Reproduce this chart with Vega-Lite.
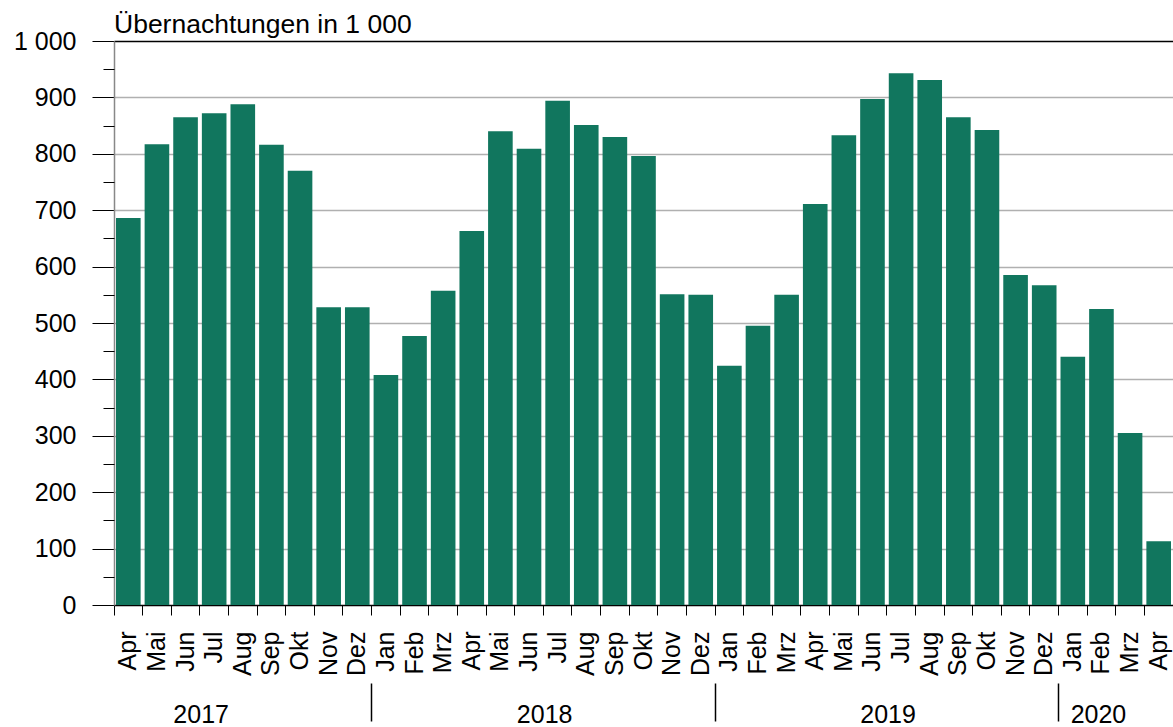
{
  "$schema": "https://vega.github.io/schema/vega-lite/v6.json",
  "width": 1059,
  "height": 564,
  "autosize": {"type": "none"},
  "padding": {"left": 114, "top": 41, "right": 0, "bottom": 122},
  "background": "white",
  "config": {
    "font": "Liberation Sans",
    "view": {"stroke": null},
    "axis": {"labelFont": "Liberation Sans", "labelColor": "black", "labelFontSize": 25, "title": null}
  },
  "title": {
    "text": "Übernachtungen in 1 000",
    "anchor": "start",
    "frame": "group",
    "orient": "top",
    "offset": -9,
    "font": "Liberation Sans",
    "fontSize": 26.5,
    "fontWeight": "normal",
    "color": "black"
  },
  "data": {
    "values": [
      {"key": "2017-04", "value": 686},
      {"key": "2017-05", "value": 817},
      {"key": "2017-06", "value": 865},
      {"key": "2017-07", "value": 872},
      {"key": "2017-08", "value": 888},
      {"key": "2017-09", "value": 816},
      {"key": "2017-10", "value": 770},
      {"key": "2017-11", "value": 528},
      {"key": "2017-12", "value": 528},
      {"key": "2018-01", "value": 408},
      {"key": "2018-02", "value": 477},
      {"key": "2018-03", "value": 557},
      {"key": "2018-04", "value": 663},
      {"key": "2018-05", "value": 840},
      {"key": "2018-06", "value": 809},
      {"key": "2018-07", "value": 894},
      {"key": "2018-08", "value": 851},
      {"key": "2018-09", "value": 830},
      {"key": "2018-10", "value": 796},
      {"key": "2018-11", "value": 551},
      {"key": "2018-12", "value": 550},
      {"key": "2019-01", "value": 424},
      {"key": "2019-02", "value": 495},
      {"key": "2019-03", "value": 550},
      {"key": "2019-04", "value": 711},
      {"key": "2019-05", "value": 833},
      {"key": "2019-06", "value": 897},
      {"key": "2019-07", "value": 943},
      {"key": "2019-08", "value": 931},
      {"key": "2019-09", "value": 865},
      {"key": "2019-10", "value": 842},
      {"key": "2019-11", "value": 585},
      {"key": "2019-12", "value": 567},
      {"key": "2020-01", "value": 440},
      {"key": "2020-02", "value": 525},
      {"key": "2020-03", "value": 305},
      {"key": "2020-04", "value": 113}
    ]
  },
  "layer": [
    {
      "mark": {"type": "bar", "color": "#11765e", "width": {"band": 0.86}},
      "encoding": {
        "x": {
          "field": "key",
          "type": "nominal",
          "scale": {"paddingInner": 0, "paddingOuter": 0},
          "axis": {
            "orient": "bottom",
            "title": null,
            "domain": false,
            "bandPosition": 0,
            "tickSize": 10,
            "tickColor": "black",
            "tickWidth": 1,
            "labelAngle": 270,
            "labelPadding": 16,
            "labelExpr": "['Jan','Feb','Mrz','Apr','Mai','Jun','Jul','Aug','Sep','Okt','Nov','Dez'][toNumber(slice(datum.value,5))-1]"
          }
        },
        "y": {
          "field": "value",
          "type": "quantitative",
          "scale": {"domain": [0, 1000], "nice": false},
          "axis": {
            "orient": "left",
            "title": null,
            "values": [0, 100, 200, 300, 400, 500, 600, 700, 800, 900, 1000],
            "domain": true,
            "domainColor": "#888888",
            "domainWidth": 1.5,
            "tickSize": 22,
            "tickColor": "black",
            "tickWidth": 1,
            "labelPadding": 16,
            "labelExpr": "datum.value == 1000 ? '1 000' : datum.label",
            "grid": true,
            "gridColor": {"condition": {"test": "datum.value == 0 || datum.value == 1000", "value": "black"}, "value": "#b0b0b0"},
            "gridWidth": 1.5
          }
        }
      }
    },
    {
      "mark": {"type": "text", "text": ""},
      "encoding": {
        "x": {
          "field": "key",
          "type": "nominal",
          "axis": {
            "orient": "bottom",
            "title": null,
            "values": ["2018-01", "2019-01", "2020-01"],
            "bandPosition": 0,
            "domain": false,
            "labels": false,
            "grid": false,
            "offset": 78,
            "tickSize": 38,
            "tickColor": "black",
            "tickWidth": 1.5
          }
        },
        "y": {
          "field": "value",
          "type": "quantitative",
          "axis": {
            "orient": "left",
            "title": null,
            "values": [50, 150, 250, 350, 450, 550, 650, 750, 850, 950],
            "domain": false,
            "labels": false,
            "grid": false,
            "tickSize": 11,
            "tickColor": "black",
            "tickWidth": 1
          }
        }
      }
    },
    {
      "mark": {"type": "text", "text": ""},
      "encoding": {
        "x": {
          "field": "key",
          "type": "nominal",
          "axis": {
            "orient": "bottom",
            "title": null,
            "values": ["2017-07", "2018-07", "2019-07", "2020-02"],
            "domain": false,
            "ticks": false,
            "tickSize": 0,
            "grid": false,
            "labelAngle": 0,
            "labelAlign": "center",
            "labelBaseline": "top",
            "labelPadding": 97,
            "labelOffset": {"condition": {"test": "datum.value == '2020-02'", "value": -3}, "value": -13},
            "labelExpr": "slice(datum.value, 0, 4)"
          }
        }
      }
    }
  ],
  "resolve": {"axis": {"x": "independent", "y": "independent"}}
}
